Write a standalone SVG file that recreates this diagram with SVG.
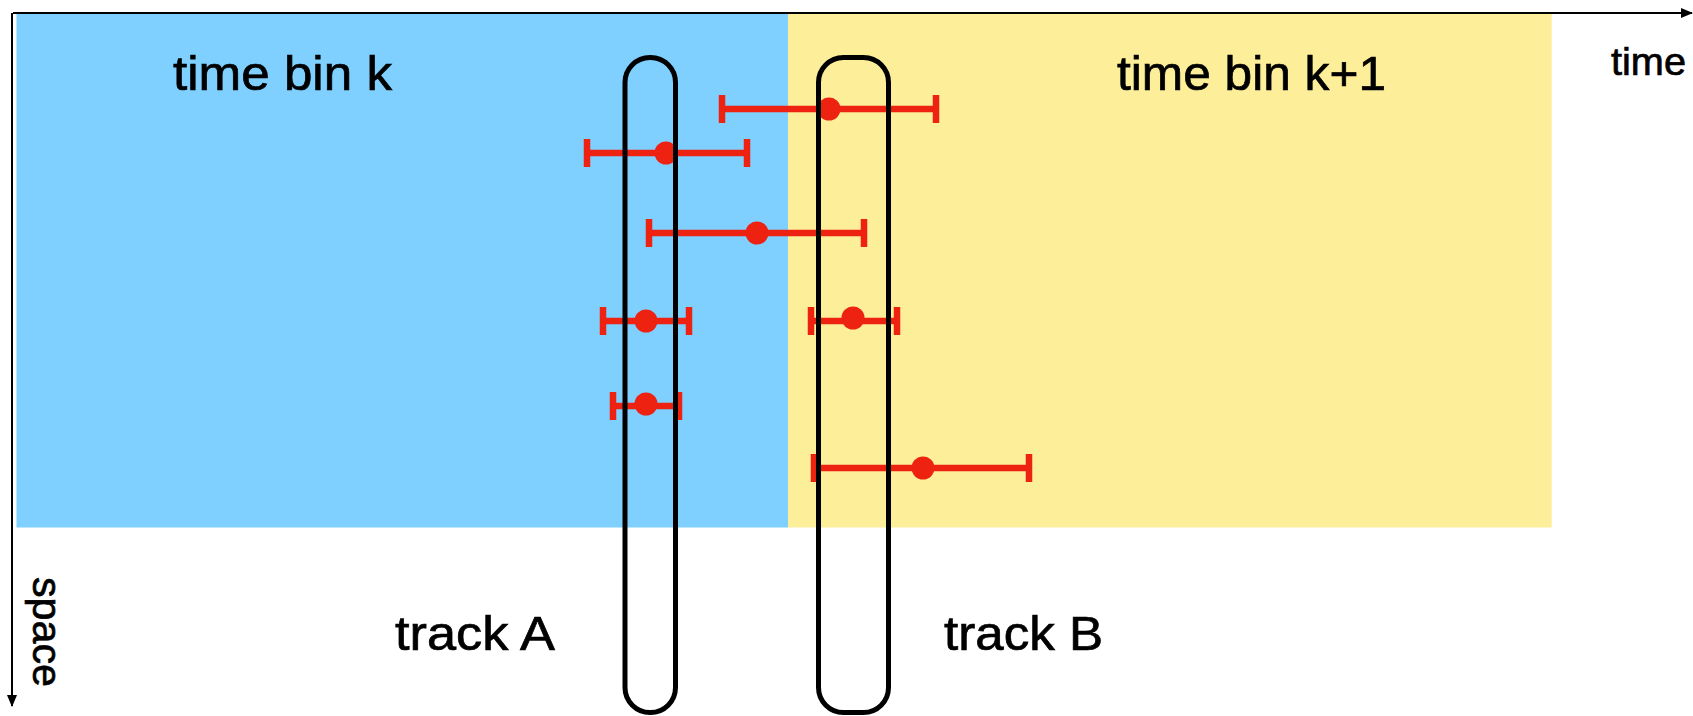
<svg xmlns="http://www.w3.org/2000/svg" width="1693" height="716" viewBox="0 0 1693 716">
<style>
text{font-family:"Liberation Sans",Arial,sans-serif;fill:#000;stroke:#000;stroke-width:0.7}
.lbl{font-size:49px}
.axis{stroke:#000;stroke-width:2;fill:none}
.track{fill:none;stroke:#000;stroke-width:5}
.bar{stroke:#EE2211;stroke-width:6.5;fill:none}
.cap{stroke:#EE2211;stroke-width:6.5;fill:none}
.dot{fill:#EE2211}
</style>
<defs>
<marker id="arr" markerWidth="12" markerHeight="10" refX="11" refY="5" orient="auto" markerUnits="userSpaceOnUse">
<path d="M0,0 L12,5 L0,10 Z" fill="#000"/>
</marker>
</defs>
<g id="bin-k">
<rect x="16.5" y="13" width="771.5" height="514.5" fill="#7FCFFF"/>
<text class="lbl" x="173" y="90" textLength="219" lengthAdjust="spacingAndGlyphs">time bin k</text>
</g>
<g id="bin-k1">
<rect x="788" y="13" width="763.7" height="514.5" fill="#FDEE9A"/>
<text class="lbl" x="1117" y="90" textLength="269" lengthAdjust="spacingAndGlyphs">time bin k+1</text>
</g>
<g id="connectors">
<line class="axis" x1="13" y1="13" x2="1692" y2="13" marker-end="url(#arr)"/>
<line class="axis" x1="12" y1="13" x2="12" y2="706" marker-end="url(#arr)"/>
</g>
<g id="time-label"><text x="1611" y="75" font-size="39" textLength="75" lengthAdjust="spacingAndGlyphs">time</text></g>
<g id="space-label"><text transform="translate(33,577) rotate(90)" font-size="41" textLength="110" lengthAdjust="spacingAndGlyphs">space</text></g>
<g id="measurements">
<g id="m1"><line class="bar" x1="722" y1="109" x2="936" y2="109"/><line class="cap" x1="722" y1="95" x2="722" y2="123"/><line class="cap" x1="936" y1="95" x2="936" y2="123"/><circle class="dot" cx="829" cy="109" r="11.5"/></g>
<g id="m2"><line class="bar" x1="587" y1="153" x2="747" y2="153"/><line class="cap" x1="587" y1="139" x2="587" y2="167"/><line class="cap" x1="747" y1="139" x2="747" y2="167"/><circle class="dot" cx="666" cy="153" r="11.5"/></g>
<g id="m3"><line class="bar" x1="649" y1="233" x2="864" y2="233"/><line class="cap" x1="649" y1="219" x2="649" y2="247"/><line class="cap" x1="864" y1="219" x2="864" y2="247"/><circle class="dot" cx="757" cy="233" r="11.5"/></g>
<g id="m4"><line class="bar" x1="603" y1="321" x2="689" y2="321"/><line class="cap" x1="603" y1="307" x2="603" y2="335"/><line class="cap" x1="689" y1="307" x2="689" y2="335"/><circle class="dot" cx="646" cy="321" r="11.5"/></g>
<g id="m5"><line class="bar" x1="811" y1="321" x2="897" y2="321"/><line class="cap" x1="811" y1="307" x2="811" y2="335"/><line class="cap" x1="897" y1="307" x2="897" y2="335"/><circle class="dot" cx="853" cy="318" r="11.5"/></g>
<g id="m6"><line class="bar" x1="613" y1="406" x2="679" y2="406"/><line class="cap" x1="613" y1="392" x2="613" y2="420"/><line class="cap" x1="679" y1="392" x2="679" y2="420"/><circle class="dot" cx="646" cy="404" r="11.5"/></g>
<g id="m7"><line class="bar" x1="814" y1="468" x2="1029" y2="468"/><line class="cap" x1="814" y1="454" x2="814" y2="482"/><line class="cap" x1="1029" y1="454" x2="1029" y2="482"/><circle class="dot" cx="923" cy="468" r="11.5"/></g>
</g>
<g id="track-A">
<rect class="track" x="625" y="57.5" width="50.5" height="655" rx="25" ry="25"/>
<text class="lbl" x="395" y="650" textLength="160" lengthAdjust="spacingAndGlyphs">track A</text>
</g>
<g id="track-B">
<rect class="track" x="818.5" y="57.5" width="70" height="655" rx="25" ry="25"/>
<text class="lbl" x="944" y="650" textLength="159" lengthAdjust="spacingAndGlyphs">track B</text>
</g>
</svg>
